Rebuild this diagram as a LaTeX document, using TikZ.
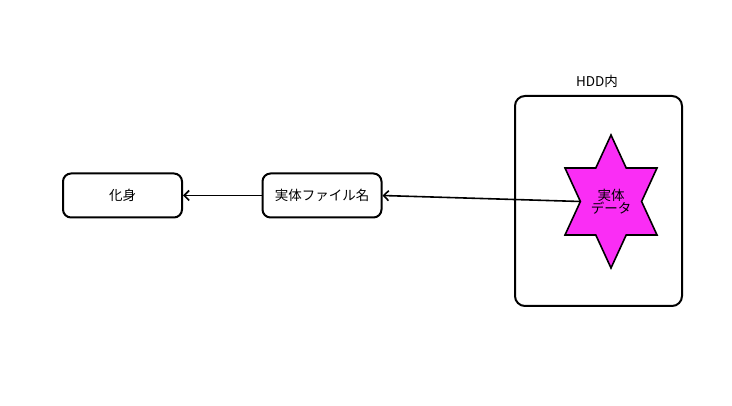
\documentclass[tikz,border=0pt]{standalone}
\usepackage{fontspec}
\setmainfont{Noto Sans CJK JP}
\usetikzlibrary{arrows.meta}
\definecolor{starpink}{RGB}{250,45,245}

\begin{document}
\begin{tikzpicture}[x=1pt,y=-1pt,font=\fontsize{13.5}{15}\selectfont,
    box/.style={draw,line width=2pt,rounded corners=8pt,minimum width=119pt,minimum height=44pt,inner sep=0pt},
    link/.style={line width=1.6pt,-{Straight Barb[length=5pt,width=10pt,line width=1.6pt]}}]

    % --- Canvas ---
    \useasboundingbox (0,0) rectangle (732,406);

    % --- HDD frame ---
    \draw[line width=2pt,rounded corners=10pt] (515,96) rectangle (682,306);
    \node (hdd) at (597,81) {HDD内};

    % --- Star corners (two crossed triangles, stretched upright) ---
    \coordinate (S) at (611,201.5);
    \coordinate (P1) at (611,135);   \coordinate (Q1) at (626.2,168);
    \coordinate (P2) at (657,168);   \coordinate (Q2) at (641.6,201.5);
    \coordinate (P3) at (657,235);   \coordinate (Q3) at (626.2,235);
    \coordinate (P4) at (611,268);   \coordinate (Q4) at (595.8,235);
    \coordinate (P5) at (565,235);   \coordinate (Q5) at (580.4,201.5);
    \coordinate (P6) at (565,168);   \coordinate (Q6) at (595.8,168);

    % Draw the star
    \draw[line width=1.6pt,fill=starpink,line join=miter]
        (P1) -- (Q1) -- (P2) -- (Q2) -- (P3) -- (Q3) -- (P4) -- (Q4)
        -- (P5) -- (Q5) -- (P6) -- (Q6) -- cycle;
    \node[align=center,inner sep=0pt] (data) at (S) {実体\\[-2pt]データ};

    % --- Boxes ---
    \node[box] (name) at (322,195.5) {実体ファイル名};
    \node[box] (avatar) at (122.5,195.5) {化身};

    % --- Arrows ---
    \draw[link] (Q5) -- (name.east);
    \draw[link] (name.west) -- (avatar.east);

\end{tikzpicture}
\end{document}
